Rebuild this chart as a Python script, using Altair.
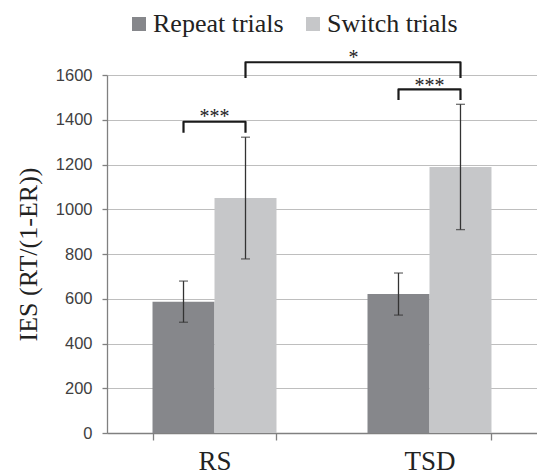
import altair as alt
import pandas as pd

# ---- data ----
categories = ["RS", "TSD"]
groups = ["Repeat trials", "Switch trials"]
repeat_means = [587, 621]
switch_means = [1050, 1189]
repeat_err = [92, 94]
switch_err = [272, 280]
colors = ["#86878b", "#c6c7c9"]
y_ticks = [0, 200, 400, 600, 800, 1000, 1200, 1400, 1600]

# significance brackets
bracket_ids = ["RS", "TSD", "RS-TSD"]
bracket_from_cat = ["RS", "TSD", "RS"]
bracket_from_grp = ["Repeat trials", "Repeat trials", "Switch trials"]
bracket_to_cat = ["RS", "TSD", "TSD"]
bracket_to_grp = ["Switch trials", "Switch trials", "Switch trials"]
bracket_top = [1391, 1536, 1657]
bracket_foot = [1342, 1488, 1587]
star_labels = ["***", "***", "*"]
star_y = [1385, 1522, 1648]

# ---- tables ----
rows = []
for i, c in enumerate(categories):
    rows.append({"cat": c, "grp": groups[0], "val": repeat_means[i],
                 "lo": repeat_means[i] - repeat_err[i], "hi": repeat_means[i] + repeat_err[i]})
    rows.append({"cat": c, "grp": groups[1], "val": switch_means[i],
                 "lo": switch_means[i] - switch_err[i], "hi": switch_means[i] + switch_err[i]})
bars_df = pd.DataFrame(rows)

caps = []
for r in rows:
    caps.append({"cat": r["cat"], "grp": r["grp"], "v": r["lo"]})
    caps.append({"cat": r["cat"], "grp": r["grp"], "v": r["hi"]})
caps_df = pd.DataFrame(caps)

br = []
for i, b in enumerate(bracket_ids):
    br.append({"id": b, "seq": 0, "cat": bracket_from_cat[i], "grp": bracket_from_grp[i], "v": bracket_foot[i]})
    br.append({"id": b, "seq": 1, "cat": bracket_from_cat[i], "grp": bracket_from_grp[i], "v": bracket_top[i]})
    br.append({"id": b, "seq": 2, "cat": bracket_to_cat[i], "grp": bracket_to_grp[i], "v": bracket_top[i]})
    br.append({"id": b, "seq": 3, "cat": bracket_to_cat[i], "grp": bracket_to_grp[i], "v": bracket_foot[i]})
br_df = pd.DataFrame(br)

stars_within = pd.DataFrame({"cat": bracket_from_cat[:2], "label": star_labels[:2], "v": star_y[:2]})
stars_between = pd.DataFrame({"cat": [bracket_from_cat[2]], "grp": [bracket_from_grp[2]],
                              "label": [star_labels[2]], "v": [star_y[2]]})

x_scale = alt.Scale(domain=categories, paddingInner=0.4233, paddingOuter=0.2117)
xo_scale = alt.Scale(domain=groups, paddingInner=0, paddingOuter=0)
y_scale = alt.Scale(domain=[0, 1600], nice=False)

x_enc = alt.X("cat:N", scale=x_scale, sort=categories,
              axis=alt.Axis(title=None, labelAngle=0, tickBand="extent", grid=False,
                            labelFont="Liberation Serif", labelFontSize=27, labelColor="#222222",
                            domainColor="#808080", domainWidth=1.3, tickColor="#808080",
                            tickSize=7, tickWidth=1.3, labelPadding=8))
xo_enc = alt.XOffset("grp:N", scale=xo_scale, sort=groups)
y_enc = alt.Y("val:Q", scale=y_scale,
              axis=alt.Axis(values=y_ticks, format="d", title="IES (RT/(1-ER))", grid=True,
                            gridColor="#bebebe", gridWidth=1.2,
                            domainColor="#808080", domainWidth=1.3,
                            tickColor="#808080", tickSize=5, tickWidth=1.3,
                            labelFont="Liberation Sans", labelFontSize=16.5, labelColor="#404040",
                            labelPadding=10, titleFont="Liberation Serif", titleFontSize=26,
                            titleFontWeight="normal", titleColor="#222222", titlePadding=14))

bars = alt.Chart(bars_df).mark_bar().encode(
    x=x_enc, xOffset=xo_enc, y=y_enc,
    color=alt.Color("grp:N", scale=alt.Scale(domain=groups, range=colors),
                    legend=alt.Legend(title=None, orient="none", direction="horizontal",
                                      legendX=19, legendY=-64, symbolType="square",
                                      symbolSize=196, symbolStrokeWidth=0,
                                      labelFont="Liberation Serif", labelFontSize=26,
                                      labelColor="#222222", labelOffset=1,
                                      columnPadding=16, padding=0)),
)

err = alt.Chart(bars_df).mark_rule(color="#333333", strokeWidth=1.3).encode(
    x=alt.X("cat:N", scale=x_scale, sort=categories), xOffset=xo_enc,
    y=alt.Y("lo:Q", scale=y_scale), y2="hi:Q")

caps_layer = alt.Chart(caps_df).mark_tick(color="#333333", thickness=1.3, size=9).encode(
    x=alt.X("cat:N", scale=x_scale, sort=categories), xOffset=xo_enc,
    y=alt.Y("v:Q", scale=y_scale))

brackets = alt.Chart(br_df).mark_line(color="#1a1a1a", strokeWidth=2.2, strokeJoin="round").encode(
    x=alt.X("cat:N", scale=x_scale, sort=categories), xOffset=xo_enc,
    y=alt.Y("v:Q", scale=y_scale), detail="id:N", order="seq:Q")

stars1 = alt.Chart(stars_within).mark_text(font="Liberation Serif", fontSize=20, color="#222222",
                                           baseline="alphabetic").encode(
    x=alt.X("cat:N", scale=x_scale, sort=categories),
    y=alt.Y("v:Q", scale=y_scale), text="label:N")

stars2 = alt.Chart(stars_between).mark_text(font="Liberation Serif", fontSize=20, color="#222222",
                                            baseline="alphabetic", dx=108).encode(
    x=alt.X("cat:N", scale=x_scale, sort=categories), xOffset=xo_enc,
    y=alt.Y("v:Q", scale=y_scale), text="label:N")

chart = alt.layer(bars, err, caps_layer, brackets, stars1, stars2).properties(
    width=430, height=358,
    autosize=alt.AutoSizeParams(type="none"),
    padding={"left": 107, "top": 75, "right": 0, "bottom": 41},
    background="white",
).configure_view(stroke=None)

chart.save("out.html", embed_options={"renderer": "svg", "actions": False})
